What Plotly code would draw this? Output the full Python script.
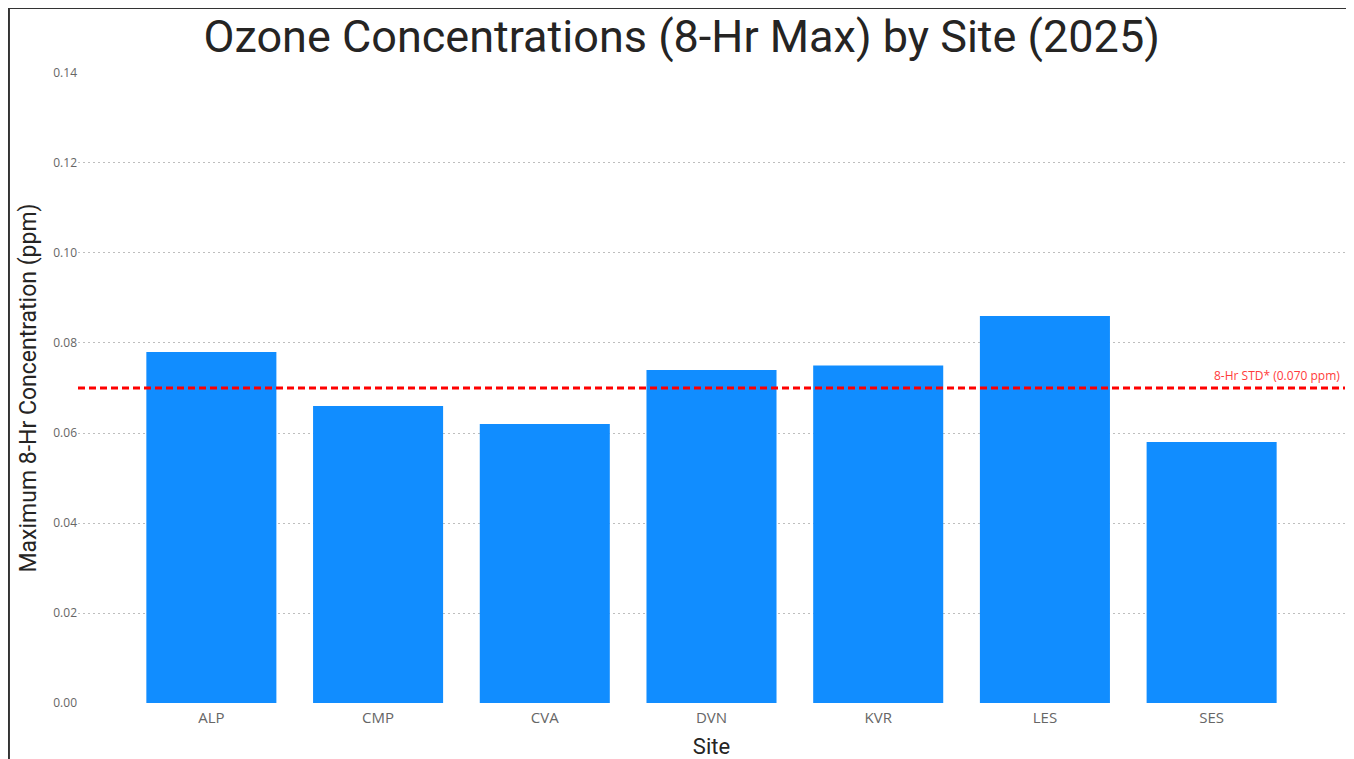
import plotly.graph_objects as go

sites = ["ALP", "CMP", "CVA", "DVN", "KVR", "LES", "SES"]
max_8hr = [0.078, 0.066, 0.062, 0.074, 0.075, 0.086, 0.058]
std_8hr = 0.070
y_ticks = [0.00, 0.02, 0.04, 0.06, 0.08, 0.10, 0.12, 0.14]

fig = go.Figure()
fig.add_trace(go.Bar(
    x=sites, y=max_8hr,
    marker=dict(color="#118DFF", line=dict(width=0)),
    width=0.78,
))

# 8-hr standard line
fig.add_shape(type="line", xref="paper", yref="y", x0=0, x1=1, y0=std_8hr, y1=std_8hr,
              line=dict(color="#FF0000", width=3, dash="7px,4px"))
fig.add_annotation(xref="paper", yref="y", x=0.9975, y=std_8hr, text="8-Hr STD* (0.070 ppm)",
                   showarrow=False, xanchor="right", yanchor="bottom", yshift=2,
                   font=dict(family="Open Sans", size=12, color="#FF3B3B"))

# outer frame (page body has 8px margin)
fig.add_shape(type="rect", xref="paper", yref="paper", x0=-0.0545, x1=1.0032, y0=-0.2, y1=1.1014,
              line=dict(color="#333333", width=2), layer="below")

fig.update_layout(
    width=1342, height=751,
    margin=dict(l=70, r=5, t=64, b=55),
    plot_bgcolor="white", paper_bgcolor="white",
    showlegend=False,
    title=dict(text="Ozone Concentrations (8-Hr Max) by Site (2025)", x=0.502, xanchor="center",
               y=0.9627, yanchor="middle",
               font=dict(family="Roboto", size=45, color="#252423")),
    xaxis=dict(title=dict(text="Site", font=dict(family="Roboto", size=22, color="#252423"), standoff=12),
               automargin=False,
               range=[-0.8, 6.8], showgrid=False, showline=False, ticks="",
               ticklabelstandoff=3,
               tickfont=dict(family="Open Sans", size=15, color="#666666")),
    yaxis=dict(title=dict(text="Maximum 8-Hr Concentration (ppm)",
                          font=dict(family="Roboto", size=23, color="#252423"), standoff=10),
               automargin=False,
               range=[-0.0002, 0.1402], tickvals=y_ticks, tickformat=".2f",
               showgrid=True, gridcolor="#BEBEBE", griddash="2px,3px", gridwidth=1,
               zeroline=False, showline=False, ticks="",
               tickfont=dict(family="Open Sans", size=12, color="#666666")),
)

fig.write_html("out.html")
